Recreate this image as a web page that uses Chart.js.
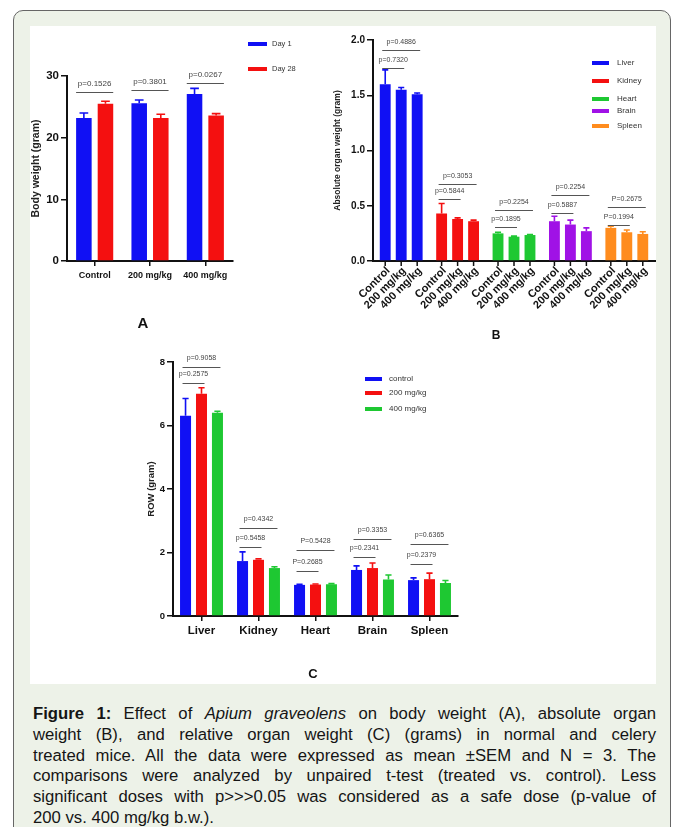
<!DOCTYPE html>
<html>
<head>
<meta charset="utf-8">
<script src="https://cdn.jsdelivr.net/npm/chart.js@4.4.1/dist/chart.umd.min.js"></script>
<style>
  body { margin: 0; width: 677px; height: 827px; overflow: hidden; background: #fff; position: relative;
         font-family: "Liberation Sans", Arial, sans-serif; }
  #frame { position: absolute; left: 13px; top: 10px; width: 656px; height: 840px; border: 1.5px solid #666;
           border-radius: 10px; background: #edf2e8; }
  #panel { position: absolute; left: 30px; top: 26px; width: 626px; height: 658px; background: #fff; }
  canvas { position: absolute; }
  .tag { position: absolute; font-weight: bold; color: #111; transform: translate(-50%, -50%); }
  #caption { position: absolute; left: 33px; top: 704px; width: 623px; font-size: 16.7px; line-height: 20.8px; color: #151515; }
  #caption div { text-align: justify; text-align-last: justify; white-space: nowrap; }
  #caption div.last { text-align-last: left; }
</style>
</head>
<body>
<div id="frame"></div>
<div id="panel"></div>
<canvas id="chartA" width="310" height="300" style="left:20px;top:26px"></canvas>
<canvas id="chartB" width="330" height="320" style="left:330px;top:30px"></canvas>
<canvas id="chartC" width="360" height="320" style="left:120px;top:340px"></canvas>
<div class="tag" style="left:143px;top:322px;font-size:15px">A</div>
<div class="tag" style="left:496px;top:335px;font-size:12px">B</div>
<div class="tag" style="left:313px;top:673px;font-size:13px">C</div>
<div id="caption">
  <div><b>Figure 1:</b> Effect of <i>Apium graveolens</i> on body weight (A), absolute organ</div>
  <div>weight (B), and relative organ weight (C) (grams) in normal and celery</div>
  <div>treated mice. All the data were expressed as mean ±SEM and N = 3. The</div>
  <div>comparisons were analyzed by unpaired t-test (treated vs. control). Less</div>
  <div>significant doses with p&gt;&gt;&gt;0.05 was considered as a safe dose (p-value of</div>
  <div class="last">200 vs. 400 mg/kg b.w.).</div>
</div>
<script>
// --- A: body weight ---
const doseLabels = ['Control', '200 mg/kg', '400 mg/kg'];
const dayLabels = ['Day 1', 'Day 28'];
const bwDay1 = [23.2, 25.6, 27.1];
const bwDay1Sem = [0.8, 0.5, 0.9];
const bwDay28 = [25.5, 23.2, 23.6];
const bwDay28Sem = [0.4, 0.6, 0.3];
const bwP = ['p=0.1526', 'p=0.3801', 'p=0.0267'];
const bwPLevel = [27.4, 27.7, 28.9];

// --- B: absolute organ weight ---
const organs = ['Liver', 'Kidney', 'Heart', 'Brain', 'Spleen'];
const aowControl = [1.60, 0.43, 0.25, 0.36, 0.30];
const aowControlSem = [0.13, 0.09, 0.01, 0.045, 0.015];
const aow200 = [1.55, 0.38, 0.22, 0.33, 0.26];
const aow200Sem = [0.02, 0.01, 0.005, 0.04, 0.02];
const aow400 = [1.51, 0.36, 0.235, 0.27, 0.245];
const aow400Sem = [0.01, 0.01, 0.005, 0.03, 0.02];
const aowPTop = ['p=0.4886', 'p=0.3053', 'p=0.2254', 'p=0.2254', 'P=0.2675'];
const aowPTopLevel = [1.91, 0.70, 0.46, 0.60, 0.49];
const aowPLow = ['p=0.7320', 'p=0.5844', 'p=0.1895', 'p=0.5887', 'P=0.1994'];
const aowPLowLevel = [1.75, 0.56, 0.31, 0.43, 0.33];

// --- C: relative organ weight ---
const rowLegend = ['control', '200 mg/kg', '400 mg/kg'];
const rowControl = [6.31, 1.73, 0.98, 1.45, 1.13];
const rowControlSem = [0.54, 0.29, 0.02, 0.13, 0.07];
const row200 = [7.00, 1.77, 0.99, 1.51, 1.16];
const row200Sem = [0.19, 0.03, 0.02, 0.16, 0.19];
const row400 = [6.40, 1.51, 1.00, 1.15, 1.04];
const row400Sem = [0.05, 0.04, 0.02, 0.14, 0.08];
const rowPTop = ['p=0.9058', 'p=0.4342', 'P=0.5428', 'p=0.3353', 'p=0.6365'];
const rowPTopLevel = [7.85, 2.78, 2.08, 2.43, 2.27];
const rowPLow = ['p=0.2575', 'p=0.5458', 'P=0.2685', 'p=0.2341', 'p=0.2379'];
const rowPLowLevel = [7.35, 2.18, 1.42, 1.86, 1.64];

const BLUE = '#1010f4', RED = '#f41010', GREEN = '#1ec832', PURPLE = '#a012e6', ORANGE = '#ff8c1e';
const organColors = [BLUE, RED, GREEN, PURPLE, ORANGE];
const FONT = '"Liberation Sans", Arial, sans-serif';

// error bars (upper only, like the original)
const errorBars = {
  id: 'errorBars',
  afterDatasetsDraw(chart) {
    const ctx = chart.ctx, y = chart.scales.y;
    chart.data.datasets.forEach((ds, di) => {
      if (!ds.sem) return;
      chart.getDatasetMeta(di).data.forEach((bar, i) => {
        const top = y.getPixelForValue(ds.data[i] + ds.sem[i]);
        const col = Array.isArray(ds.backgroundColor) ? ds.backgroundColor[i] : ds.backgroundColor;
        const cap = bar.width * 0.28;
        ctx.save();
        ctx.strokeStyle = col;
        ctx.lineWidth = 1.6;
        ctx.beginPath();
        ctx.moveTo(bar.x, bar.y);
        ctx.lineTo(bar.x, top);
        ctx.moveTo(bar.x - cap, top);
        ctx.lineTo(bar.x + cap, top);
        ctx.stroke();
        ctx.restore();
      });
    });
  }
};

// p-value brackets
const pvals = {
  id: 'pvals',
  afterDatasetsDraw(chart, args, o) {
    if (!o.items) return;
    const ctx = chart.ctx, y = chart.scales.y;
    ctx.save();
    ctx.font = o.font;
    ctx.fillStyle = '#444';
    ctx.strokeStyle = '#555';
    ctx.lineWidth = 1;
    ctx.textAlign = 'center';
    ctx.textBaseline = 'middle';
    o.items.forEach(it => {
      const a = chart.getDatasetMeta(it.from).data[it.cat];
      const b = chart.getDatasetMeta(it.to).data[it.cat];
      const x1 = o.edges ? a.x - a.width / 2 : a.x - 3;
      const x2 = o.edges ? b.x + b.width / 2 : b.x + 3;
      const py = Math.round(y.getPixelForValue(it.level)) + 0.5;
      ctx.beginPath();
      ctx.moveTo(x1, py);
      ctx.lineTo(x2, py);
      ctx.stroke();
      ctx.fillText(it.text, (x1 + x2) / 2, py - o.gap);
    });
    ctx.restore();
  }
};

// legend drawn as short thick lines
const lineLegend = {
  id: 'lineLegend',
  afterDraw(chart, args, o) {
    if (!o.items) return;
    const ctx = chart.ctx;
    ctx.save();
    ctx.font = o.font;
    ctx.textBaseline = 'middle';
    o.items.forEach((it, i) => {
      const y = o.ys[i];
      ctx.strokeStyle = it.color;
      ctx.lineWidth = 4;
      ctx.beginPath();
      ctx.moveTo(o.x, y);
      ctx.lineTo(o.x + o.len, y);
      ctx.stroke();
      ctx.fillStyle = '#333';
      ctx.fillText(it.label, o.x + o.len + o.gap, y);
    });
    ctx.restore();
  }
};

// one tick + rotated label under every bar (panel B)
const barTicks = {
  id: 'barTicks',
  afterDraw(chart, args, o) {
    if (!o.labels) return;
    const ctx = chart.ctx, bottom = chart.chartArea.bottom;
    ctx.save();
    ctx.font = o.font;
    ctx.fillStyle = '#111';
    ctx.strokeStyle = '#111';
    ctx.lineWidth = 1.5;
    chart.data.datasets.forEach((ds, di) => {
      chart.getDatasetMeta(di).data.forEach(bar => {
        ctx.beginPath();
        ctx.moveTo(bar.x, bottom);
        ctx.lineTo(bar.x, bottom + 5);
        ctx.stroke();
        ctx.save();
        ctx.translate(bar.x + 3, bottom + 8);
        ctx.rotate(-Math.PI / 4);
        ctx.textAlign = 'right';
        ctx.textBaseline = 'middle';
        ctx.fillText(o.labels[di], 0, 0);
        ctx.restore();
      });
    });
    ctx.restore();
  }
};

Chart.register(errorBars, pvals, lineLegend, barTicks);

function yAxis(max, step, tickSize, title, titleSize, titlePad, width, dec) {
  return {
    min: 0, max: max,
    afterFit: s => { s.width = width; },
    ticks: { stepSize: step, color: '#111', padding: 2, font: { family: FONT, size: tickSize, weight: 'bold' },
             callback: v => dec ? v.toFixed(1) : v },
    grid: { drawOnChartArea: false, tickLength: 6, color: '#111', lineWidth: 1.5 },
    border: { color: '#111', width: 2 },
    title: { display: true, text: title, color: '#222', padding: { top: titlePad, bottom: 0 },
             font: { family: FONT, size: titleSize, weight: 'bold' } }
  };
}

function brackets(top, topLevel, low, lowLevel) {
  const items = [];
  top.forEach((t, i) => items.push({ text: t, level: topLevel[i], cat: i, from: 0, to: 2 }));
  low.forEach((t, i) => items.push({ text: t, level: lowLevel[i], cat: i, from: 0, to: 1 }));
  return items;
}

// A
new Chart(document.getElementById('chartA'), {
  type: 'bar',
  data: {
    labels: doseLabels,
    datasets: [
      { label: dayLabels[0], data: bwDay1, sem: bwDay1Sem, backgroundColor: BLUE },
      { label: dayLabels[1], data: bwDay28, sem: bwDay28Sem, backgroundColor: RED }
    ]
  },
  options: {
    responsive: false, animation: false,
    layout: { padding: { top: 50, right: 97, bottom: 35, left: 0 } },
    datasets: { bar: { categoryPercentage: 0.78, barPercentage: 0.72 } },
    scales: {
      x: {
        afterFit: s => { s.height = 30; },
        ticks: { color: '#111', padding: 4, font: { family: FONT, size: 9, weight: 'bold' } },
        grid: { drawOnChartArea: false, offset: false, tickLength: 5, color: '#111', lineWidth: 1.5 },
        border: { color: '#111', width: 2 }
      },
      y: yAxis(30, 10, 11.5, 'Body weight (gram)', 10.5, 10, 47, false)
    },
    plugins: {
      legend: { display: false }, tooltip: { enabled: false },
      pvals: { font: '8px ' + FONT, gap: 9, edges: true,
               items: bwP.map((t, i) => ({ text: t, level: bwPLevel[i], cat: i, from: 0, to: 1 })) },
      lineLegend: { font: '7.5px ' + FONT, x: 228, len: 19, gap: 5, ys: [18, 43],
                    items: dayLabels.map((l, i) => ({ label: l, color: [BLUE, RED][i] })) }
    }
  }
});

// B
new Chart(document.getElementById('chartB'), {
  type: 'bar',
  data: {
    labels: organs,
    datasets: [
      { label: doseLabels[0], data: aowControl, sem: aowControlSem, backgroundColor: organColors },
      { label: doseLabels[1], data: aow200, sem: aow200Sem, backgroundColor: organColors },
      { label: doseLabels[2], data: aow400, sem: aow400Sem, backgroundColor: organColors }
    ]
  },
  options: {
    responsive: false, animation: false,
    layout: { padding: { top: 10, right: 5, bottom: 29, left: 0 } },
    datasets: { bar: { categoryPercentage: 0.85, barPercentage: 0.68 } },
    scales: {
      x: {
        afterFit: s => { s.height = 60; },
        ticks: { display: false },
        grid: { drawOnChartArea: false, drawTicks: false },
        border: { color: '#111', width: 2 }
      },
      y: yAxis(2, 0.5, 10, 'Absolute organ weight (gram)', 8.5, 3, 43, true)
    },
    plugins: {
      legend: { display: false }, tooltip: { enabled: false },
      pvals: { font: '7px ' + FONT, gap: 8, edges: false,
               items: brackets(aowPTop, aowPTopLevel, aowPLow, aowPLowLevel) },
      lineLegend: { font: '8px ' + FONT, x: 262, len: 17, gap: 8, ys: [33, 51, 69, 81, 96],
                    items: organs.map((l, i) => ({ label: l, color: organColors[i] })) },
      barTicks: { font: 'bold 11px ' + FONT, labels: doseLabels }
    }
  }
});

// C
new Chart(document.getElementById('chartC'), {
  type: 'bar',
  data: {
    labels: organs,
    datasets: [
      { label: rowLegend[0], data: rowControl, sem: rowControlSem, backgroundColor: BLUE },
      { label: rowLegend[1], data: row200, sem: row200Sem, backgroundColor: RED },
      { label: rowLegend[2], data: row400, sem: row400Sem, backgroundColor: GREEN }
    ]
  },
  options: {
    responsive: false, animation: false,
    layout: { padding: { top: 22, right: 22, bottom: 19, left: 0 } },
    datasets: { bar: { categoryPercentage: 0.84, barPercentage: 0.69 } },
    scales: {
      x: {
        afterFit: s => { s.height = 25; },
        ticks: { color: '#111', padding: 3, font: { family: FONT, size: 11.5, weight: 'bold' } },
        grid: { drawOnChartArea: false, offset: false, tickLength: 5, color: '#111', lineWidth: 1.5 },
        border: { color: '#111', width: 2 }
      },
      y: yAxis(8, 2, 9.5, 'ROW (gram)', 9.5, 26, 53, false)
    },
    plugins: {
      legend: { display: false }, tooltip: { enabled: false },
      pvals: { font: '7px ' + FONT, gap: 9, edges: false,
               items: brackets(rowPTop, rowPTopLevel, rowPLow, rowPLowLevel) },
      lineLegend: { font: '8px ' + FONT, x: 245, len: 17, gap: 7, ys: [39, 53, 69],
                    items: rowLegend.map((l, i) => ({ label: l, color: [BLUE, RED, GREEN][i] })) }
    }
  }
});
</script>
</body>
</html>
